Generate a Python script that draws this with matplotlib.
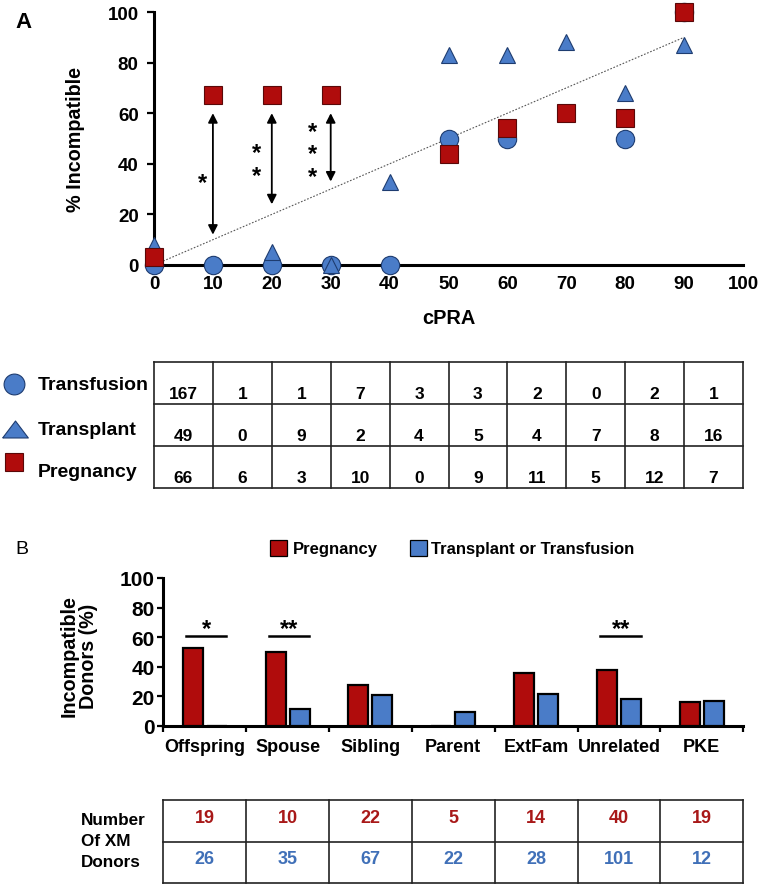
import matplotlib
matplotlib.use("Agg")
import matplotlib.pyplot as plt
import numpy as np
from matplotlib.lines import Line2D
from matplotlib.patches import Rectangle

# fonts: Liberation Sans is metric compatible with Arial
plt.rcParams['font.family'] = ['Liberation Sans', 'DejaVu Sans']
plt.rcParams['font.weight'] = 'bold'

W, H = 762, 887

RED = '#B00C0C'
RED_EDGE = '#5A0808'
BLUE = '#4A7CC8'
BLUE_EDGE = '#1E3C70'
TXT_RED = '#A81818'
TXT_BLUE = '#4070B8'

# ---- panel A data ----
cpra = np.arange(0, 100, 10)
transfusion_pct = [0, 0, 0, 0, 0, 50, 50, np.nan, 50, 100]
transplant_pct = [8, np.nan, 5, 0, 33, 83, 83, 88, 68, 87]
pregnancy_pct = [3, 67, 67, 67, np.nan, 44, 54, 60, 58, 100]
trend_x = [0, 90]
trend_y = [0, 90]

arrow_x = [10, 20, 30]
arrow_top = [60, 60, 60]
arrow_bottom = [12, 24, 33]
star_count = [1, 2, 3]
star_x = [8.3, 17.4, 26.9]
star_mid = [34, 41.2, 45.2]

row_names = ['Transfusion', 'Transplant', 'Pregnancy']
transfusion_n = [167, 1, 1, 7, 3, 3, 2, 0, 2, 1]
transplant_n = [49, 0, 9, 2, 4, 5, 4, 7, 8, 16]
pregnancy_n = [66, 6, 3, 10, 0, 9, 11, 5, 12, 7]

# ---- panel B data ----
relations = ['Offspring', 'Spouse', 'Sibling', 'Parent', 'ExtFam', 'Unrelated', 'PKE']
preg_pct_b = [52.6, 50.0, 27.3, 0, 35.7, 37.5, 15.8]
tt_pct_b = [0, 11.4, 20.9, 9.1, 21.4, 17.8, 16.7]
preg_donors = [19, 10, 22, 5, 14, 40, 19]
tt_donors = [26, 35, 67, 22, 28, 101, 12]
sig_groups = [0, 1, 5]
sig_labels = ['*', '**', '**']
sig_level = 60.6


def box(l, t, r, b):
    # pixel box -> figure fraction rect
    return [l / W, 1 - b / H, (r - l) / W, (b - t) / H]


def fx(x):
    return x / W


def fy(y):
    return 1 - y / H


fig = plt.figure(figsize=(W / 100, H / 100), dpi=100)

# ================= Panel A scatter =================
ax = fig.add_axes(box(154, 13, 743, 266))
ax.set_xlim(0, 100)
ax.set_ylim(0, 100)
for s in ['top', 'right']:
    ax.spines[s].set_visible(False)
for s in ['left', 'bottom']:
    ax.spines[s].set_linewidth(2.2)
    ax.spines[s].set_zorder(2)

ax.plot(trend_x, trend_y, linestyle=(0, (1.5, 1.5)), color='#555555', lw=0.8, zorder=1)

ax.plot(cpra, transfusion_pct, 'o', ms=13.2, mfc=BLUE, mec=BLUE_EDGE, mew=0.8,
        clip_on=False, zorder=3)
ax.plot(cpra, transplant_pct, '^', ms=11.8, mfc=BLUE, mec=BLUE_EDGE, mew=0.8,
        clip_on=False, zorder=4)
ax.plot(cpra, pregnancy_pct, 's', ms=13.6, mfc=RED, mec=RED_EDGE, mew=0.8,
        clip_on=False, zorder=5)

for x, top, bot, n, sx, sm in zip(arrow_x, arrow_top, arrow_bottom, star_count, star_x, star_mid):
    ax.annotate('', xy=(x, bot), xytext=(x, top),
                arrowprops=dict(arrowstyle='<|-|>,head_length=0.55,head_width=0.28',
                                color='black', lw=1.3, mutation_scale=10,
                                shrinkA=0, shrinkB=0))
    # stacked significance stars, one text block
    ax.text(sx, sm - 1.3, '\n'.join(['*'] * n), ha='center', va='center',
            fontsize=17, linespacing=0.95)

ax.set_xticks(np.arange(0, 101, 10))
ax.set_yticks(np.arange(0, 101, 20))
ax.tick_params(axis='x', length=0, pad=7, labelsize=13.5)
ax.tick_params(axis='y', length=5, width=1.6, pad=6, labelsize=13.5)
for lab in ax.get_xticklabels() + ax.get_yticklabels():
    lab.set_fontweight('bold')
ax.set_xlabel('cPRA', fontsize=14.4, fontweight='bold', labelpad=12)
ax.set_ylabel('% Incompatible', fontsize=14.2, fontweight='bold', labelpad=16)

fig.text(fx(23), fy(23), 'A', ha='center', va='center', fontsize=16, fontweight='bold')

# ================= Panel A table =================
axt = fig.add_axes(box(154, 363, 743, 489))
axt.set_xlim(0, 100)
axt.set_ylim(3, 0)
axt.axis('off')
for r in range(4):
    axt.plot([0, 100], [r, r], color='#222222', lw=1.2, clip_on=False)
for c in range(0, 101, 10):
    axt.plot([c, c], [0, 3], color='#222222', lw=1.2, clip_on=False)
for r, counts in enumerate([transfusion_n, transplant_n, pregnancy_n]):
    for c, v in zip(cpra, counts):
        axt.text(c + 5, r + 0.74, str(v), ha='center', va='center', fontsize=12.5,
                 fontweight='bold')

label_y = [386, 430.5, 472.5]
for name, y in zip(row_names, label_y):
    fig.text(fx(38), fy(y), name, ha='left', va='center', fontsize=14, fontweight='bold')

fig.add_artist(Line2D([fx(14.2)], [fy(385.3)], transform=fig.transFigure, marker='o',
                      ms=15, mfc=BLUE, mec=BLUE_EDGE, mew=0.8, ls='none'))
tri = [(-1, -0.66), (1, -0.66), (0, 0.66), (-1, -0.66)]
fig.add_artist(Line2D([fx(14.5)], [fy(430)], transform=fig.transFigure, marker=tri,
                      ms=18.5, mfc=BLUE, mec=BLUE_EDGE, mew=0.8, ls='none'))
fig.add_artist(Line2D([fx(13.5)], [fy(463)], transform=fig.transFigure, marker='s',
                      ms=13.5, mfc=RED, mec=RED_EDGE, mew=0.8, ls='none'))

# ================= Panel B bars =================
axb = fig.add_axes(box(163.3, 579, 743.3, 726.7))
axb.set_xlim(0, 7)
axb.set_ylim(0, 100)
for s in ['top', 'right']:
    axb.spines[s].set_visible(False)
for s in ['left', 'bottom']:
    axb.spines[s].set_linewidth(2.2)

centers = np.arange(len(relations)) + 0.5
bw = 0.241
axb.bar(centers - 0.145, preg_pct_b, bw, color=RED, edgecolor='black', linewidth=1.6, zorder=3)
axb.bar(centers + 0.145, tt_pct_b, bw, color=BLUE, edgecolor='black', linewidth=1.6, zorder=3)

for g, lab in zip(sig_groups, sig_labels):
    c = centers[g]
    axb.plot([c - 0.23, c + 0.26], [sig_level, sig_level], color='black', lw=1.8)
    axb.text(c + 0.02, sig_level - 2.8, lab, ha='center', va='bottom', fontsize=17)

axb.set_yticks(np.arange(0, 101, 20))
axb.set_xticks(np.arange(0, 8))
axb.set_xticklabels([])
axb.set_xticks(centers, minor=True)
axb.set_xticklabels(relations, minor=True)
axb.tick_params(axis='x', which='major', length=4, width=1.6, direction='out')
axb.tick_params(axis='x', which='minor', length=0, pad=9, labelsize=13)
axb.tick_params(axis='y', length=4, width=1.6, pad=2, labelsize=15)
for lab in axb.get_yticklabels() + axb.get_xticklabels(minor=True):
    lab.set_fontweight('bold')

fig.text(fx(79), fy(656), 'Incompatible\nDonors (%)', rotation=90, ha='center', va='center',
         multialignment='center', fontsize=14.2, fontweight='bold', linespacing=1.05)

fig.text(fx(21.7), fy(550), 'B', ha='center', va='center', fontsize=14, fontweight='normal')

# legend for panel B
fig.add_artist(Rectangle((fx(270), fy(557)), 17 / W, 16 / H, transform=fig.transFigure,
                         facecolor=RED, edgecolor='black', lw=0.9))
fig.text(fx(293), fy(550), 'Pregnancy', ha='left', va='center', fontsize=12)
fig.add_artist(Rectangle((fx(409.6), fy(557)), 17 / W, 16 / H, transform=fig.transFigure,
                         facecolor=BLUE, edgecolor='black', lw=0.9))
fig.text(fx(431.4), fy(550), 'Transplant or Transfusion', ha='left', va='center', fontsize=12)

# ================= Panel B table =================
axtb = fig.add_axes(box(163.3, 801, 743.3, 884.3))
axtb.set_xlim(0, 7)
axtb.set_ylim(2, 0)
axtb.axis('off')
for r in range(3):
    axtb.plot([0, 7], [r, r], color='#222222', lw=1.2, clip_on=False)
for c in range(8):
    axtb.plot([c, c], [0, 2], color='#222222', lw=1.2, clip_on=False)
for c, pv, tv in zip(centers, preg_donors, tt_donors):
    axtb.text(c, 0.41, str(pv), ha='center', va='center', fontsize=13, color=TXT_RED)
    axtb.text(c, 1.40, str(tv), ha='center', va='center', fontsize=13, color=TXT_BLUE)

for line, y in zip(['Number', 'Of XM', 'Donors'], [821, 841.7, 862.3]):
    fig.text(fx(81), fy(y), line, ha='left', va='center', fontsize=12.3)

fig.savefig('out.png', dpi=100)
